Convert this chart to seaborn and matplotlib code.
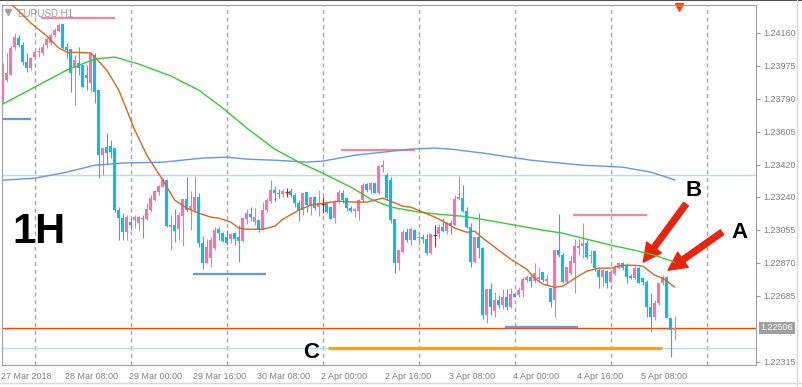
import seaborn as sns
import matplotlib.pyplot as plt
import matplotlib.transforms as mtransforms
from matplotlib.lines import Line2D
import numpy as np

# EURUSD H1 candles, bar 0 = 27 Mar 16:00
opens = [
    1.23782, 1.23894, 1.23922, 1.24079, 1.24130, 1.24091, 1.23995, 1.23962, 1.24023, 1.24051,
    1.24046, 1.24091, 1.24102, 1.24147, 1.24169, 1.24208, 1.24079, 1.24068, 1.23967, 1.23990,
    1.23978, 1.23922, 1.23877, 1.24034, 1.23838, 1.23473, 1.23518, 1.23524, 1.23513, 1.23165,
    1.23120, 1.23041, 1.23098, 1.23109, 1.23092, 1.23120, 1.23114, 1.23165, 1.23221, 1.23266,
    1.23294, 1.23333, 1.23070, 1.23081, 1.23058, 1.23131, 1.23227, 1.23171, 1.23165, 1.23238,
    1.22980, 1.22868, 1.22896, 1.22952, 1.23058, 1.23036, 1.23013, 1.23002, 1.23036, 1.23013,
    1.22991, 1.23114, 1.23142, 1.23098, 1.23109, 1.23053, 1.23165, 1.23215, 1.23277, 1.23260,
    1.23255, 1.23266, 1.23271, 1.23249, 1.23204, 1.23165, 1.23266, 1.23193, 1.23238, 1.23182,
    1.23199, 1.23204, 1.23182, 1.23120, 1.23210, 1.23260, 1.23232, 1.23176, 1.23159, 1.23159,
    1.23221, 1.23311, 1.23277, 1.23316, 1.23260, 1.23406, 1.23361, 1.23333, 1.23114, 1.22868,
    1.22929, 1.23041, 1.22997, 1.23053, 1.23008, 1.23013, 1.23002, 1.22924, 1.23025, 1.23030,
    1.23070, 1.23047, 1.23092, 1.23081, 1.23227, 1.23232, 1.23159, 1.23070, 1.22873, 1.23013,
    1.22952, 1.22576, 1.22722, 1.22598, 1.22660, 1.22632, 1.22677, 1.22621, 1.22694, 1.22688,
    1.22716, 1.22772, 1.22789, 1.22767, 1.22778, 1.22817, 1.22767, 1.22727, 1.22660, 1.22940,
    1.22912, 1.22761, 1.22811, 1.22868, 1.22955, 1.22963, 1.22980, 1.22907, 1.22935, 1.22828,
    1.22789, 1.22823, 1.22761, 1.22806, 1.22840, 1.22868, 1.22856, 1.22795, 1.22783, 1.22840,
    1.22783, 1.22761, 1.22621, 1.22565, 1.22643, 1.22755, 1.22789, 1.22559, 1.22492]
highs = [
    1.23990, 1.24046, 1.24091, 1.24158, 1.24147, 1.24107, 1.24046, 1.24023, 1.24062, 1.24079,
    1.24102, 1.24135, 1.24158, 1.24186, 1.24214, 1.24210, 1.24102, 1.24070, 1.24034, 1.24079,
    1.23980, 1.23978, 1.24051, 1.24046, 1.23840, 1.23513, 1.23597, 1.23558, 1.23515, 1.23182,
    1.23148, 1.23137, 1.23126, 1.23137, 1.23131, 1.23137, 1.23204, 1.23249, 1.23277, 1.23305,
    1.23344, 1.23335, 1.23137, 1.23171, 1.23154, 1.23227, 1.23350, 1.23271, 1.23356, 1.23260,
    1.23019, 1.23002, 1.23013, 1.23070, 1.23070, 1.23041, 1.23053, 1.23036, 1.23041, 1.23081,
    1.23126, 1.23171, 1.23182, 1.23176, 1.23111, 1.23210, 1.23232, 1.23333, 1.23300, 1.23283,
    1.23283, 1.23288, 1.23288, 1.23260, 1.23221, 1.23262, 1.23268, 1.23240, 1.23243, 1.23277,
    1.23238, 1.23206, 1.23184, 1.23221, 1.23277, 1.23277, 1.23238, 1.23187, 1.23176, 1.23227,
    1.23316, 1.23316, 1.23322, 1.23318, 1.23417, 1.23445, 1.23372, 1.23350, 1.23116, 1.22940,
    1.23053, 1.23064, 1.23070, 1.23058, 1.23041, 1.23030, 1.23030, 1.23030, 1.23081, 1.23086,
    1.23120, 1.23098, 1.23109, 1.23249, 1.23356, 1.23305, 1.23182, 1.23092, 1.23013, 1.23148,
    1.22957, 1.22722, 1.22755, 1.22705, 1.22688, 1.22722, 1.22722, 1.22727, 1.22699, 1.22733,
    1.22789, 1.22800, 1.22800, 1.22868, 1.22845, 1.22819, 1.22806, 1.22729, 1.22940, 1.23142,
    1.22924, 1.22845, 1.22912, 1.23002, 1.23002, 1.23092, 1.22997, 1.22940, 1.22940, 1.22840,
    1.22828, 1.22828, 1.22828, 1.22856, 1.22873, 1.22873, 1.22868, 1.22806, 1.22856, 1.22845,
    1.22789, 1.22772, 1.22699, 1.22660, 1.22755, 1.22800, 1.22795, 1.22561, 1.22570]
lows = [
    1.23765, 1.23883, 1.23922, 1.24062, 1.24079, 1.23978, 1.23939, 1.23950, 1.24018, 1.24023,
    1.24034, 1.24074, 1.24091, 1.24135, 1.24163, 1.24068, 1.24018, 1.23827, 1.23754, 1.23922,
    1.23855, 1.23838, 1.23827, 1.23765, 1.23344, 1.23361, 1.23417, 1.23457, 1.23154, 1.22997,
    1.22997, 1.22997, 1.23053, 1.23064, 1.23047, 1.23008, 1.23112, 1.23154, 1.23215, 1.23249,
    1.23292, 1.23070, 1.22940, 1.22985, 1.22997, 1.22963, 1.23154, 1.23053, 1.23154, 1.22957,
    1.22834, 1.22866, 1.22845, 1.22940, 1.22997, 1.22985, 1.22969, 1.22980, 1.22969, 1.22873,
    1.22985, 1.23086, 1.23103, 1.23081, 1.23041, 1.23051, 1.23154, 1.23204, 1.23215, 1.23232,
    1.23238, 1.23238, 1.23238, 1.23182, 1.23103, 1.23137, 1.23154, 1.23137, 1.23165, 1.23131,
    1.23148, 1.23148, 1.23114, 1.23092, 1.23204, 1.23204, 1.23159, 1.23154, 1.23126, 1.23109,
    1.23210, 1.23266, 1.23260, 1.23260, 1.23258, 1.23378, 1.23221, 1.23092, 1.22811, 1.22828,
    1.22924, 1.22985, 1.22969, 1.22997, 1.22969, 1.22980, 1.22912, 1.22918, 1.22957, 1.23008,
    1.23041, 1.23030, 1.23030, 1.23079, 1.23221, 1.23154, 1.23064, 1.22845, 1.22868, 1.22896,
    1.22553, 1.22531, 1.22576, 1.22565, 1.22615, 1.22610, 1.22604, 1.22615, 1.22677, 1.22677,
    1.22677, 1.22761, 1.22733, 1.22755, 1.22761, 1.22761, 1.22744, 1.22621, 1.22565, 1.22901,
    1.22755, 1.22755, 1.22800, 1.22699, 1.22912, 1.22896, 1.22890, 1.22868, 1.22823, 1.22727,
    1.22739, 1.22727, 1.22755, 1.22800, 1.22834, 1.22828, 1.22755, 1.22778, 1.22778, 1.22755,
    1.22744, 1.22565, 1.22486, 1.22548, 1.22632, 1.22744, 1.22559, 1.22340, 1.22436]
closes = [
    1.23894, 1.23933, 1.24074, 1.24135, 1.24091, 1.23995, 1.23962, 1.24018, 1.24051, 1.24057,
    1.24079, 1.24124, 1.24147, 1.24175, 1.24203, 1.24074, 1.24062, 1.23933, 1.24006, 1.23962,
    1.23857, 1.23905, 1.24046, 1.23827, 1.23473, 1.23513, 1.23485, 1.23490, 1.23165, 1.23120,
    1.23041, 1.23126, 1.23081, 1.23126, 1.23126, 1.23114, 1.23171, 1.23232, 1.23271, 1.23300,
    1.23333, 1.23075, 1.23081, 1.23047, 1.23137, 1.23227, 1.23165, 1.23187, 1.23238, 1.22980,
    1.22868, 1.22957, 1.22997, 1.23053, 1.23036, 1.22991, 1.22980, 1.23030, 1.23002, 1.22991,
    1.23120, 1.23148, 1.23126, 1.23126, 1.23058, 1.23165, 1.23221, 1.23277, 1.23260, 1.23255,
    1.23271, 1.23266, 1.23249, 1.23204, 1.23165, 1.23260, 1.23193, 1.23238, 1.23176, 1.23204,
    1.23199, 1.23154, 1.23116, 1.23210, 1.23266, 1.23221, 1.23176, 1.23159, 1.23171, 1.23221,
    1.23305, 1.23277, 1.23316, 1.23262, 1.23412, 1.23417, 1.23232, 1.23109, 1.22868, 1.22940,
    1.23041, 1.22997, 1.23058, 1.22999, 1.23013, 1.23002, 1.22924, 1.23030, 1.23025, 1.23070,
    1.23047, 1.23092, 1.23075, 1.23227, 1.23238, 1.23159, 1.23070, 1.22873, 1.23013, 1.22952,
    1.22576, 1.22722, 1.22621, 1.22660, 1.22632, 1.22677, 1.22621, 1.22694, 1.22679, 1.22716,
    1.22778, 1.22789, 1.22767, 1.22811, 1.22789, 1.22772, 1.22778, 1.22649, 1.22940, 1.22912,
    1.22761, 1.22845, 1.22879, 1.22963, 1.22963, 1.22980, 1.22901, 1.22912, 1.22840, 1.22789,
    1.22828, 1.22755, 1.22817, 1.22845, 1.22868, 1.22840, 1.22789, 1.22783, 1.22840, 1.22757,
    1.22761, 1.22621, 1.22565, 1.22643, 1.22755, 1.22789, 1.22561, 1.22492, 1.22503]

# moving averages read at some bars
fast_ma_bar = [2, 4, 7, 11, 14, 16, 22, 23, 26, 29, 31, 33, 36, 40, 43, 46, 49, 52, 54, 57, 59, 61, 65,
               68, 70, 74, 77, 80, 84, 88, 91, 94, 95, 97, 100, 102, 105, 108, 111, 113, 116, 118, 120,
               124, 127, 131, 133, 135, 138, 140, 143, 146, 149, 152, 155, 158, 160, 163, 165, 167, 168]
fast_ma = [1.24321, 1.24281, 1.24214, 1.24141, 1.24074, 1.24051, 1.24046, 1.24023, 1.23950, 1.23838,
           1.23726, 1.23614, 1.23473, 1.23333, 1.23221, 1.23176, 1.23148, 1.23126, 1.23120, 1.23098,
           1.23064, 1.23058, 1.23058, 1.23075, 1.23114, 1.23165, 1.23193, 1.23204, 1.23215, 1.23210,
           1.23210, 1.23227, 1.23232, 1.23215, 1.23187, 1.23182, 1.23154, 1.23126, 1.23092, 1.23064,
           1.23041, 1.23047, 1.23008, 1.22940, 1.22890, 1.22834, 1.22783, 1.22750, 1.22733, 1.22739,
           1.22783, 1.22823, 1.22840, 1.22840, 1.22856, 1.22856, 1.22851, 1.22800, 1.22783, 1.22750,
           1.22733]
mid_ma_bar = [0, 8, 16, 23, 28, 34, 42, 49, 55, 61, 68, 74, 80, 87, 92, 97, 104, 109, 115, 121, 128,
              135, 140, 146, 152, 158, 163, 168]
mid_ma = [1.23760, 1.23855, 1.23950, 1.24012, 1.24023, 1.23984, 1.23917, 1.23838, 1.23737, 1.23625,
          1.23507, 1.23434, 1.23372, 1.23294, 1.23227, 1.23182, 1.23154, 1.23142, 1.23131, 1.23109,
          1.23081, 1.23053, 1.23036, 1.23002, 1.22969, 1.22940, 1.22912, 1.22873]
slow_ma_bar = [0, 8, 16, 23, 30, 40, 50, 56, 61, 68, 76, 80, 88, 95, 102, 108, 112, 120, 132, 145,
               155, 162, 166, 168]
slow_ma = [1.23333, 1.23344, 1.23378, 1.23417, 1.23429, 1.23434, 1.23457, 1.23462, 1.23451, 1.23445,
           1.23434, 1.23440, 1.23473, 1.23490, 1.23507, 1.23513, 1.23507, 1.23485, 1.23445, 1.23417,
           1.23406, 1.23378, 1.23350, 1.23333]

# drawn levels: (price, first bar, last bar)
pink_levels = [(1.24242, 9.6, 28.1), (1.23501, 84.6, 103.0), (1.23137, 142.6, 161.0)]
blue_levels = [(1.23675, -0.2, 7.1), (1.22806, 47.6, 65.8), (1.22512, 125.6, 143.8)]
c_level = (1.22391, 81.3, 164.8)
bid_price = 1.22506
cyan_levels = [1.23361, 1.22391]

tick_bars = [0, 16, 32, 48, 64, 80, 96, 112, 128, 144, 160]
tick_labels = ["27 Mar 2018", "28 Mar 08:00", "29 Mar 00:00", "29 Mar 16:00", "30 Mar 08:00",
               "2 Apr 00:00", "2 Apr 16:00", "3 Apr 08:00", "4 Apr 00:00", "4 Apr 16:00", "5 Apr 08:00"]
day_bars = [8, 32, 56, 80, 104, 128, 152, 176]
price_ticks = [1.24160, 1.23975, 1.23790, 1.23605, 1.23420, 1.23240, 1.23055, 1.22870, 1.22685, 1.22315]

sns.set_style("white")
plt.rcParams['font.family'] = ['Liberation Sans', 'DejaVu Sans']

fig = plt.figure(figsize=(8.03, 3.87), dpi=100)
ax = fig.add_axes([2 / 803, 22 / 387, 754 / 803, 360 / 387])

o = np.array(opens); h = np.array(highs); l = np.array(lows); c = np.array(closes)
bars = np.arange(len(c))
bull, bear, doji = "#FF6EB4", "#00BFFF", "#FF0000"
cols = np.where(c > o, bull, np.where(c < o, bear, doji))

for s in day_bars:
    ax.axvline(s, color="#A8A8A8", lw=1, ls=(0, (3, 2.5)), zorder=0)
for p in cyan_levels:
    ax.axhline(p, color="#B0E0E6", lw=1, zorder=1)
ax.axhline(bid_price, color="#FF4500", lw=1, zorder=1)
for p, a, b in pink_levels:
    ax.hlines(p, a, b, color="#F4879A", lw=1.6, zorder=1)
for p, a, b in blue_levels:
    ax.hlines(p, a, b, color="#6495ED", lw=1.6, zorder=1)
ax.hlines(c_level[0], c_level[1], c_level[2], color="#FFA500", lw=2.4, zorder=1)

ax.vlines(bars, l, h, colors=cols, lw=0.8, zorder=3)
ax.bar(bars, c - o, bottom=o, width=0.75, color=cols, lw=0, zorder=3)
d = c == o
ax.hlines(o[d], bars[d] - 0.45, bars[d] + 0.45, colors=doji, lw=0.8, zorder=3)

sns.lineplot(x=slow_ma_bar, y=slow_ma, ax=ax, color="#6495ED", lw=1, zorder=4)
sns.lineplot(x=mid_ma_bar, y=mid_ma, ax=ax, color="#32CD32", lw=1, zorder=4)
sns.lineplot(x=fast_ma_bar, y=fast_ma, ax=ax, color="#D2691E", lw=1, zorder=4)

ax.set_xlim(-0.2, 188.3)
ax.set_ylim(1.22297, 1.24315)

ax.yaxis.tick_right()
ax.set_yticks(price_ticks)
ax.set_yticklabels([f"{v:.5f}" for v in price_ticks])
ax.set_xticks(tick_bars)
ax.set_xticklabels(tick_labels, ha="left")
ax.tick_params(axis="y", length=3, width=0.8, color="#A0A0A0", labelsize=6.5, labelcolor="#808080", pad=2)
ax.tick_params(axis="x", length=3, width=0.8, color="#A0A0A0", labelsize=6.5, labelcolor="#808080", pad=2)
for lab in ax.get_xticklabels():
    lab.set_transform(lab.get_transform() + mtransforms.ScaledTranslation(-2 / 100, 0, fig.dpi_scale_trans))
ax.set_xlabel("")
ax.set_ylabel("")
for sp in ax.spines.values():
    sp.set_color("#A0A0A0")
    sp.set_linewidth(0.8)

trans = mtransforms.blended_transform_factory(ax.transAxes, ax.transData)
ax.text(1.006, bid_price, "1.22506", transform=trans, fontsize=6.5, color="white", va="center", ha="left",
        bbox=dict(facecolor="#A0A0A0", edgecolor="none", pad=1.2), clip_on=False)

ax.text(3.6, 1.24253, "EURUSD,H1", fontsize=7, color="#A0A0A0")
ax.plot([1.3], [1.24273], marker="v", ms=4, color="#A0A0A0")
ax.plot([169.1], [1.24304], marker="v", ms=6, color="#FF4500", clip_on=False)

ax.text(2.3, 1.22980, "1H", fontsize=30, color="black", fontweight="bold")
ax.text(170.8, 1.23243, "B", fontsize=16, color="black", fontweight="bold")
ax.text(182.1, 1.23008, "A", fontsize=16, color="black", fontweight="bold")
ax.text(75.1, 1.22335, "C", fontsize=16, color="black", fontweight="bold")

arrow = dict(arrowstyle="simple,head_length=1.1,head_width=1.1,tail_width=0.35",
             color="#E8250C", shrinkA=0, shrinkB=0, mutation_scale=12)
ax.annotate("", xy=(160.1, 1.22873), xytext=(170.8, 1.23199), arrowprops=arrow)
ax.annotate("", xy=(166.3, 1.22828), xytext=(179.8, 1.23041), arrowprops=arrow)

fig.add_artist(Line2D([0, 1], [0.999, 0.999], color="#505050", lw=1.5))
fig.add_artist(Line2D([797.5 / 803, 797.5 / 803], [0, 1], color="#D8D8D8", lw=1))
fig.add_artist(Line2D([0, 1], [4 / 387, 4 / 387], color="#D8D8D8", lw=1))

fig.savefig("out.png", dpi=100)
